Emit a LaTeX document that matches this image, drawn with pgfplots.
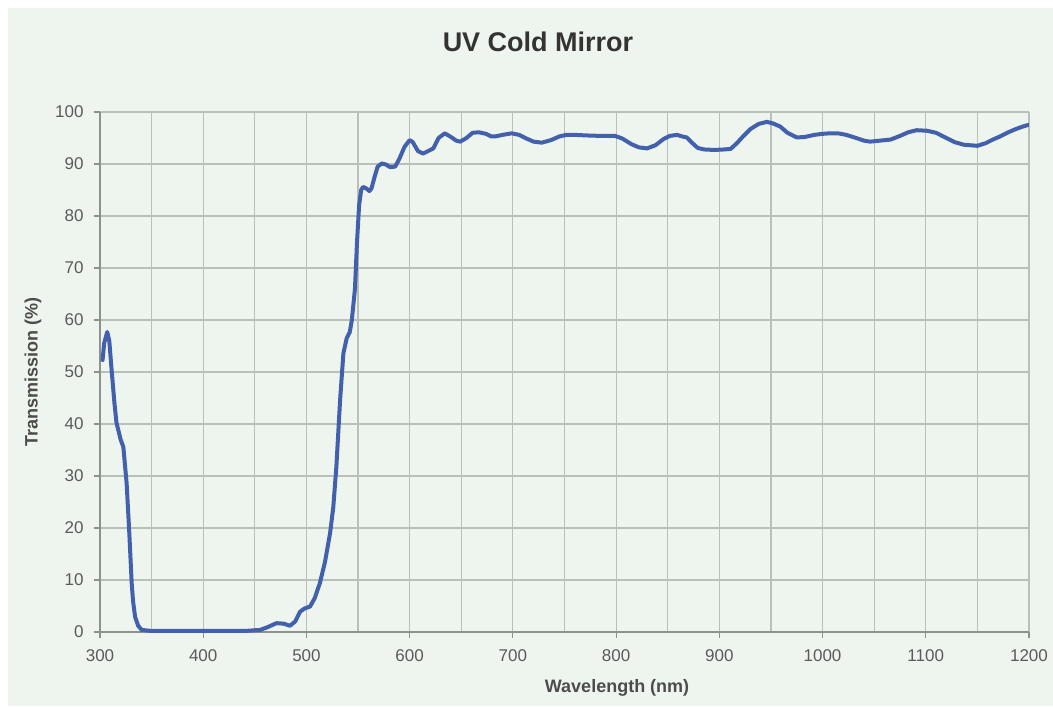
\documentclass[border=0pt]{standalone}
\usepackage{pgfplots}
\pgfplotsset{compat=1.18}
\usepackage{fontspec}
\setmainfont{Liberation Sans}
\definecolor{bgc}{RGB}{238,245,238}
\definecolor{gridc}{RGB}{184,192,184}
\definecolor{axisc}{RGB}{140,146,140}
\definecolor{tickc}{RGB}{90,90,90}
\definecolor{linec}{RGB}{66,96,172}
\begin{document}
\begin{tikzpicture}
\useasboundingbox (-50pt,-37pt) rectangle (476.5pt,316pt);
\fill[white] (-50pt,-37pt) rectangle (476.5pt,316pt);
\fill[bgc] (-46pt,-37pt) rectangle (476.5pt,312pt);
\begin{axis}[
  at={(0,0)}, anchor=south west,
  scale only axis, width=464.5pt, height=260pt,
  xmin=300, xmax=1200, ymin=0, ymax=100,
  xtick={300,400,...,1200}, ytick={0,10,...,100},
  minor xtick={350,450,...,1150},
  grid=both,
  major grid style={gridc, line width=0.6pt},
  minor grid style={gridc, line width=0.6pt},
  axis lines*=left,
  axis line style={axisc, line width=0.8pt},
  tick align=outside, tick pos=left,
  major tick length=3pt, minor tick length=0pt,
  tick style={axisc, line width=0.6pt},
  /pgf/number format/assume math mode=true,
  /pgf/number format/1000 sep={},
  ticklabel style={font=\fontsize{8.5}{10}\selectfont, text=tickc},
  x tick label style={anchor=center, yshift=-9pt},
  y tick label style={anchor=east, inner sep=0pt, xshift=-5pt},
  xlabel={Wavelength (nm)},
  ylabel={Transmission (\%)},
  label style={font=\fontsize{9}{11}\selectfont\bfseries, text=tickc!85!black},
  xlabel style={at={(axis description cs:0.5566,-0.1077)}, anchor=center},
  ylabel style={at={(axis description cs:-0.0721,0.5)}, anchor=center, rotate=0},
]
\addplot[linec, line width=2pt, line join=round, line cap=round] coordinates {
(302.5,52.3)(304,55.5)(307,57.7)(309,56)(311,51)(314,44)(316,40.2)(320,37)(322.6,35.6)
(325.8,28.6)(328.4,19)(330.7,9.4)(332,6)(334,2.9)(337,1.2)(340.4,0.4)(350,0.2)(400,0.2)
(440,0.2)(455,0.4)(462,0.9)(471,1.7)(478,1.6)(484,1.2)(489,2)(493.8,3.9)(498,4.5)(503.5,4.9)
(508,6.5)(513,9.4)(518,13.5)(522.9,19)(526,24)(529,31.8)(532.6,44.6)(535.8,53.6)(539,56.5)
(542,57.7)(544,60)(547,66)(549,75)(551,82)(553,85)(555,85.6)(558,85.3)(561,84.8)(563,85.3)
(566,87.5)(569,89.5)(573,90.1)(577,89.9)(581,89.4)(586,89.5)(590,91)(595,93.3)(600,94.6)
(603,94.2)(608,92.5)(613,92)(617,92.4)(623,93)(628,95)(634,95.9)(640,95.2)(645,94.5)
(649,94.3)(655,95)(661,96)(667,96.1)(674,95.8)(679,95.3)(683,95.3)(690,95.6)(699,95.9)
(706,95.6)(712,95)(720,94.3)(728,94.1)(737,94.6)(745,95.3)(752,95.6)(760,95.6)(770,95.5)
(785,95.4)(799,95.4)(806,94.9)(815,93.8)(822,93.2)(830,93)(838,93.6)(846,94.8)(852,95.4)
(859,95.6)(864,95.3)(868.5,95.1)(874,94)(879,93.1)(885,92.8)(895,92.7)(905,92.8)(911,92.9)
(917,94)(923,95.3)(930,96.7)(938,97.7)(946,98.1)(952,97.8)(959,97.2)(966,96)(975,95.1)
(983,95.2)(992,95.6)(1000,95.8)(1007,95.9)(1015,95.9)(1023,95.6)(1031,95.1)(1040,94.5)
(1046,94.3)(1056,94.5)(1066,94.7)(1075,95.4)(1083,96.1)(1091,96.5)(1101,96.4)(1110,96)
(1120,95)(1128,94.2)(1137,93.7)(1150,93.5)(1158,94)(1165,94.7)(1172,95.3)(1180,96.1)
(1187,96.7)(1194,97.2)(1199,97.5)
};
\end{axis}
\node[font=\fontsize{13.5}{16}\selectfont\bfseries, text=black!80] at (219pt,295pt) {UV Cold Mirror};
\end{tikzpicture}
\end{document}
